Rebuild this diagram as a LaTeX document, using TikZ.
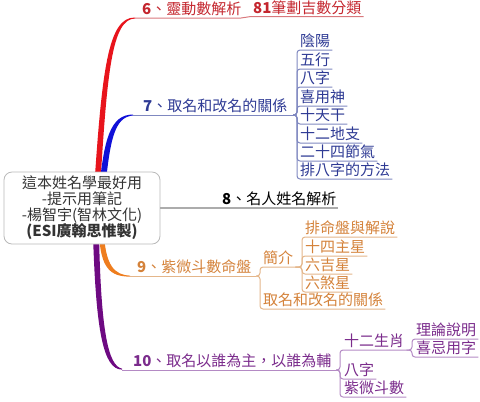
\documentclass[tikz,border=0pt]{standalone}
\usepackage{fontspec}
\setmainfont{Noto Sans CJK TC}
\definecolor{redbr}{HTML}{E8141C}
\definecolor{redt}{HTML}{C4262E}
\definecolor{redul}{HTML}{D9787C}
\definecolor{bluebr}{HTML}{1010D8}
\definecolor{bluet}{HTML}{2E3A94}
\definecolor{blueul}{HTML}{7F88C0}
\definecolor{orbr}{HTML}{EE7D1E}
\definecolor{ort}{HTML}{D4823A}
\definecolor{orul}{HTML}{E4B68A}
\definecolor{pubr}{HTML}{6E0A82}
\definecolor{put}{HTML}{7B2C8C}
\definecolor{puul}{HTML}{B48AC4}
\begin{document}
\begin{tikzpicture}[x=1bp,y=-1bp,
  font=\fontsize{15bp}{16bp}\selectfont,
  lbl/.style={anchor=base west, inner sep=0pt},
  ulr/.style={draw=redul, line width=1bp},
  ulb/.style={draw=blueul, line width=1bp, rounded corners=3bp},
  ulo/.style={draw=orul, line width=1bp, rounded corners=3bp},
  ulp/.style={draw=puul, line width=1bp, rounded corners=3bp}]
\useasboundingbox (0,0) rectangle (480,401);
% tapered main branches
\fill[redbr] (94,190) .. controls (102,70) and (108,17) .. (135,17.5)
  -- (135,18.5) .. controls (112,19) and (107,72) .. (100,190) -- cycle;
\fill[bluebr] (99,190) .. controls (104,140) and (110,114.5) .. (133,114.5)
  -- (133,115.5) .. controls (114,117) and (110,141) .. (105,190) -- cycle;
\fill[orbr] (99,235) .. controls (101,268) and (110,276.6) .. (130,276.6)
  -- (130,275.6) .. controls (114,275) and (106,265) .. (104,235) -- cycle;
\fill[pubr] (93,235) .. controls (96,330) and (103,369.6) .. (122,369.6)
  -- (122,368.6) .. controls (108,366) and (101,330) .. (99,235) -- cycle;
% central topic
\node[draw=gray!55, rounded corners=8bp, fill=white, line width=0.8bp,
  minimum width=156bp, minimum height=72bp, align=center, text=black!80,
  inner sep=2bp] (c) at (82,208)
  {這本姓名學最好用\\-提示用筆記\\-楊智宇(智林文化)\\\textbf{(ESI廣翰思惟製)}};
% branch 6
\coordinate (r6) at (135,18);
\node[lbl,text=redt] (n6) at (142,14.5) {\textbf{6}、靈動數解析};
\node[lbl,text=redt] (n81) at (253,13.5) {\textbf{81}筆劃吉數分類};
\draw[ulr] (r6) -- (241,18) .. controls (246,18) and (246,16.5) .. (251,16.5)
  -- ([xshift=2bp,yshift=-3bp]n81.base east);
% branch 7
\coordinate (r7) at (133,115);
\node[lbl,text=bluet] (n7) at (143,111) {\textbf{7}、取名和改名的關係};
\coordinate (p7) at (293,115);
\coordinate (j7) at (297,115);
\draw[ulb] (r7) -- (p7);
\foreach \t/\y [count=\i] in {陰陽/50,五行/69,八字/87,喜用神/106,十天干/124,十二地支/143,二十四節氣/161,排八字的方法/179}{
  \node[lbl,text=bluet] (k\i) at (300,\y-4) {\t};
  \draw[ulb] (p7) -- (j7) |- ([xshift=2bp,yshift=-4bp]k\i.base east);
}
% branch 8
\coordinate (p8) at (338,208);
\node[lbl,text=black] (n8) at (222,204) {\textbf{8}、名人姓名解析};
\draw[gray!65, line width=1.2bp] (c.east) -- (p8);
% branch 9
\coordinate (r9) at (130,276);
\node[lbl,text=ort] (n9) at (137,272) {\textbf{9}、紫微斗數命盤};
\coordinate (p9) at (256,276);
\coordinate (j9) at (260,276);
\draw[ulo] (r9) -- (p9);
\node[lbl,text=ort] (jj) at (263,263) {簡介};
\node[lbl,text=ort] (qm) at (263,305) {取名和改名的關係};
\draw[ulo] (p9) -- (j9) |- ([xshift=2bp,yshift=-4bp]jj.base east);
\draw[ulo] (p9) -- (j9) |- ([xshift=2bp,yshift=-4bp]qm.base east);
\coordinate (p9b) at ([xshift=2bp,yshift=-4bp]jj.base east);
\coordinate (j9b) at (302,267);
\foreach \t/\y [count=\i] in {排命盤與解說/237,十四主星/256,六吉星/274,六煞星/292}{
  \node[lbl,text=ort] (z\i) at (305,\y-4) {\t};
  \draw[ulo] (p9b) -- (j9b) |- ([xshift=2bp,yshift=-4bp]z\i.base east);
}
% branch 10
\coordinate (r10) at (122,370);
\node[lbl,text=put] (n10) at (133,366) {\textbf{10}、取名以誰為主，以誰為輔};
\coordinate (p10) at (336,370);
\coordinate (j10) at (340,370);
\draw[ulp] (r10) -- (p10);
\node[lbl,text=put] (sx) at (344,346) {十二生肖};
\node[lbl,text=put] (bz) at (344,375) {八字};
\node[lbl,text=put] (zw) at (344,393) {紫微斗數};
\foreach \n in {sx,bz,zw}{
  \draw[ulp] (p10) -- (j10) |- ([xshift=2bp,yshift=-4bp]\n.base east);
}
\coordinate (p10b) at ([xshift=2bp,yshift=-4bp]sx.base east);
\coordinate (j10b) at (412,350);
\node[lbl,text=put] (ll) at (416,335) {理論說明};
\node[lbl,text=put] (xj) at (416,353) {喜忌用字};
\foreach \n in {ll,xj}{
  \draw[ulp] (p10b) -- (j10b) |- ([xshift=2bp,yshift=-4bp]\n.base east);
}
\end{tikzpicture}
\end{document}
